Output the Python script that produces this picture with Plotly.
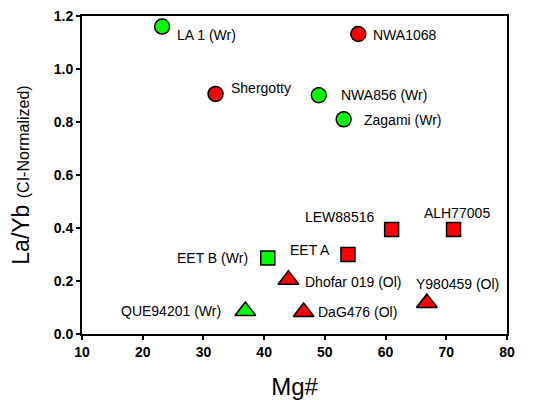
import plotly.graph_objects as go

# Martian meteorites: Mg# vs chondrite-normalized La/Yb
names = ["LA 1 (Wr)", "NWA1068", "Shergotty", "NWA856 (Wr)", "Zagami (Wr)",
         "LEW88516", "ALH77005", "EET A", "EET B (Wr)", "Dhofar 019 (Ol)",
         "Y980459 (Ol)", "DaG476 (Ol)", "QUE94201 (Wr)"]
mg_number = [23.2, 55.5, 32.0, 49.0, 53.1, 61.0, 71.2, 53.8, 40.6, 44.0, 66.8, 46.5, 36.9]
la_yb = [1.16, 1.132, 0.906, 0.901, 0.81, 0.394, 0.394, 0.30, 0.287, 0.205, 0.117, 0.083, 0.087]
symbols = ["circle", "circle", "circle", "circle", "circle",
           "square", "square", "square", "square", "triangle-up",
           "triangle-up", "triangle-up", "triangle-up"]
colors = ["#00FF00", "#FF0000", "#FF0000", "#00FF00", "#00FF00",
          "#FF0000", "#FF0000", "#FF0000", "#00FF00", "#FF0000",
          "#FF0000", "#FF0000", "#00FF00"]

x_ticks = [10, 20, 30, 40, 50, 60, 70, 80]
y_ticks = [0.0, 0.2, 0.4, 0.6, 0.8, 1.0, 1.2]

# label placement: (x shift px, y shift px, anchor)
label_pos = [(13, -8, "left"), (13, -1, "left"), (13, 6, "left"), (20, 0, "left"),
             (18, -1, "left"), (-16, 13, "right"), (3, 17, "center"), (-16, 5, "right"),
             (-18, 0, "right"), (15, -2, "left"), (-13, 19, "left"), (12, 0, "left"),
             (-22, 0, "right")]

sizes = {"circle": 15, "square": 14, "triangle-up": 18}
FONT = "Liberation Sans, Arial"

fig = go.Figure()
fig.add_trace(go.Scatter(
    x=mg_number, y=la_yb, mode="markers",
    marker=dict(symbol=symbols, color=colors, size=[sizes[s] for s in symbols],
                opacity=1, line=dict(color="black", width=1.5)),
    showlegend=False, hoverinfo="skip"))

for name, xv, yv, (dx, dy, anc) in zip(names, mg_number, la_yb, label_pos):
    fig.add_annotation(x=xv, y=yv, text=name, showarrow=False,
                       xanchor=anc, yanchor="middle", xshift=dx, yshift=dy,
                       font=dict(family=FONT, size=14, color="black"))

axis_common = dict(showline=True, linecolor="black", linewidth=2, mirror=True,
                   ticks="outside", ticklen=4, tickwidth=1.5, tickcolor="black",
                   showgrid=False, zeroline=False, automargin=False,
                   tickfont=dict(family=FONT, size=14, color="black"))

fig.update_xaxes(range=[10, 80], tickmode="array", tickvals=x_ticks,
                 ticktext=[f"<b>{v}</b>" for v in x_ticks], **axis_common,
                 title=dict(text="Mg#", standoff=20,
                            font=dict(family=FONT, size=24, color="black")))
fig.update_yaxes(range=[0, 1.2], tickmode="array", tickvals=y_ticks,
                 ticktext=[f"<b>{v:.1f}</b>" for v in y_ticks], **axis_common,
                 title=dict(text="La/Yb <span style='font-size:16px'>(CI-Normalized)</span>",
                            standoff=18,
                            font=dict(family=FONT, size=23, color="black")))

fig.update_layout(width=547, height=400, margin=dict(l=82, r=40, t=16, b=66),
                  plot_bgcolor="white", paper_bgcolor="white")

fig.write_html("out.html")
